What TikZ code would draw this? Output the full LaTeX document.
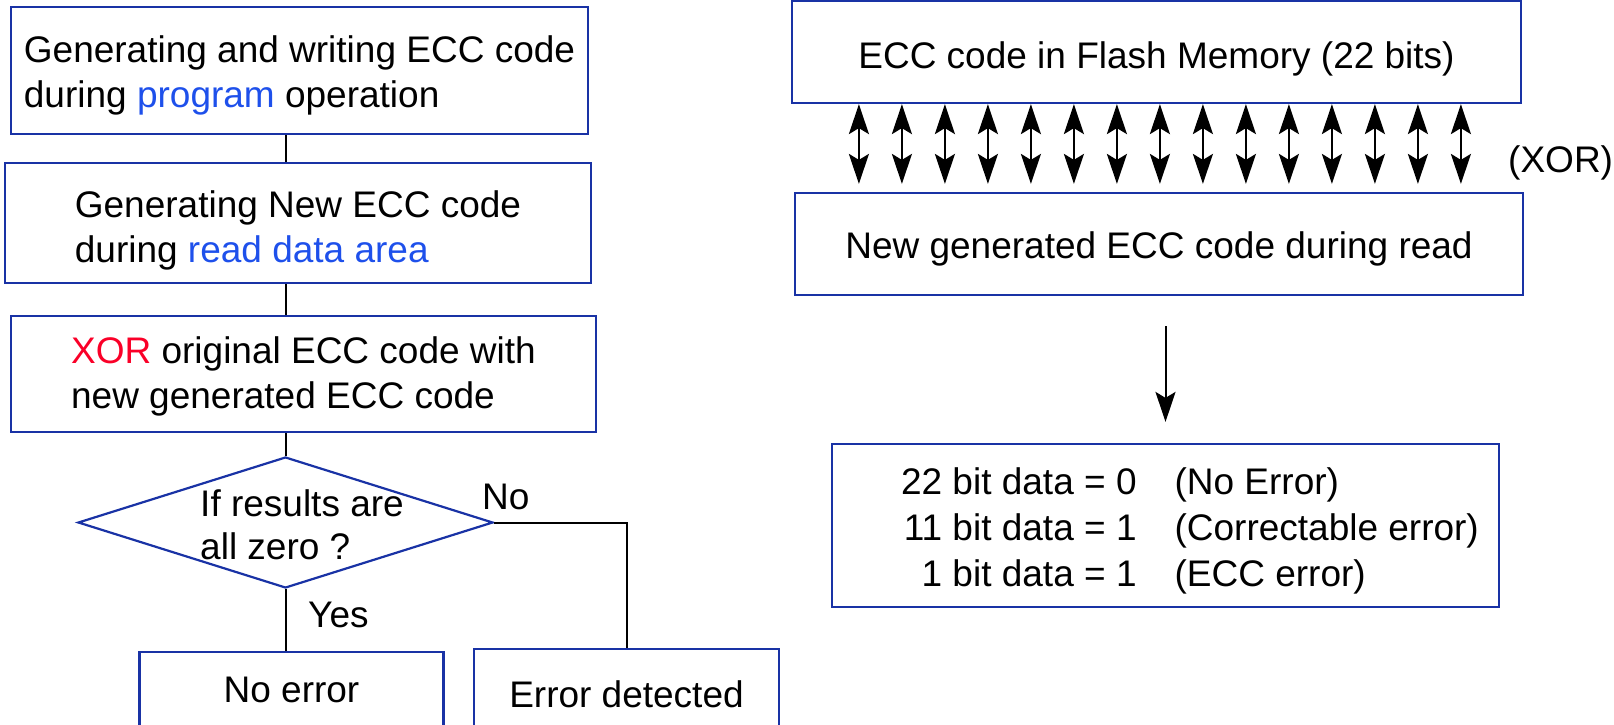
\documentclass[tikz,border=0pt]{standalone}
\usepackage{fontspec}
\setmainfont{Liberation Sans}
\usetikzlibrary{arrows.meta,shapes.geometric}
\definecolor{boxblue}{RGB}{25,50,165}
\definecolor{textblue}{RGB}{30,80,235}
\definecolor{textred}{RGB}{250,0,40}

\begin{document}
\begin{tikzpicture}[
    x = 1pt,
    y = -1pt,
    >= {Stealth[length=30pt,width=20pt,inset=6pt]},
    font = \fontsize{37}{45}\selectfont,
    box/.style = {
      draw = boxblue,
      line width = 2.2pt,
      align = left,
      inner sep = 0pt
    },
    drop/.style = {
      execute at begin node = {\rule{0pt}{#1}}
    },
    wire/.style = {
      line width = 2pt
    }
  ]
  \useasboundingbox (0,0) rectangle (1614,724);
  \clip (0,0) rectangle (1614,724);

  \node (prog)    [box, drop=81pt, minimum width=577pt, minimum height=127pt] at (299.5,70.5)
    {Generating and writing ECC code\\during \textcolor{textblue}{program} operation};
  \node (newread) [box, drop=86pt, minimum width=586pt, minimum height=120pt] at (298,223)
    {Generating New ECC code\\during \textcolor{textblue}{read data area}};
  \node (xorstep) [box, drop=76pt, minimum width=585pt, minimum height=116pt] at (303.5,374)
    {\textcolor{textred}{XOR} original ECC code with\\new generated ECC code};

  \node (query) [box, diamond, minimum width=415pt, minimum height=131pt] at (285.5,522.5) {};
  \node (qtext) [align=left, font=\fontsize{37}{43}\selectfont] at (302,525) {If results are\\all zero ?};
  \node (yes) [anchor=base west, inner sep=0pt] at (308,627) {Yes};
  \node (no)  [anchor=base west, inner sep=0pt] at (482,509) {No};

  \node (noerr)  [box, minimum width=304pt, minimum height=76pt] at (291.5,690) {No error};
  \node (errdet) [box, minimum width=305pt, minimum height=90pt] at (626.5,694) {Error detected};

  \draw [wire] (prog.south -| query) -- (newread.north -| query);
  \draw [wire] (newread.south -| query) -- (xorstep.north -| query);
  \draw [wire] (xorstep.south -| query) -- (query.north);
  \draw [wire] (query.south) -- (query.south |- noerr.north);
  \draw [wire] (query.east) -| (errdet.north);

  \node (flash)  [box, drop=41pt, minimum width=729pt, minimum height=102pt] at (1156.5,52)
    {ECC code in Flash Memory (22 bits)};
  \node (newecc) [box, drop=37pt, minimum width=728pt, minimum height=102pt] at (1159,244)
    {New generated ECC code during read};
  \node (xor) [anchor=base west, inner sep=0pt] at (1508,172) {(XOR)};

  \foreach \i in {0,...,14} {
    \coordinate (bit\i) at ([xshift=68pt+\i*43pt]flash.south west);
    \draw [wire,<->,shorten >=8pt] (bit\i) -- (bit\i |- newecc.north);
  }

  \node (result) [box, minimum width=667pt, minimum height=163pt] at (1165.5,525.5)
    {\renewcommand{\arraystretch}{1.025}%
    \begin{tabular}{@{\hspace{49pt}}r@{ }l@{\hspace{38pt}}l@{}}
      \rule{0pt}{44pt}22 & bit data = 0 & (No Error)\\
      11 & bit data = 1 & (Correctable error)\\
      1\ & bit data = 1 & (ECC error)
    \end{tabular}};

  \draw [wire,->,shorten <=30pt,shorten >=21pt] (newecc.south -| result.north) -- (result.north);
\end{tikzpicture}
\end{document}
